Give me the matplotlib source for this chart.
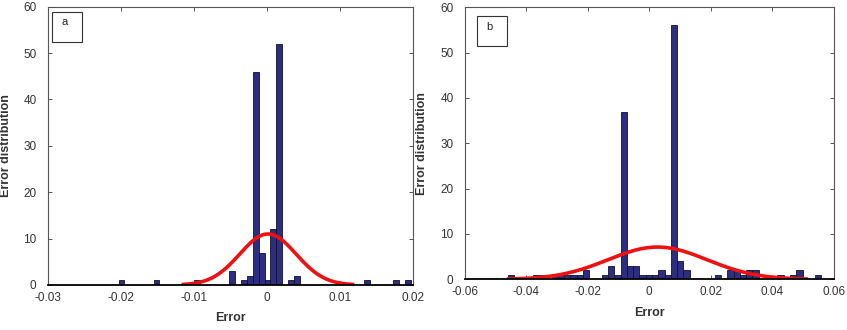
import numpy as np
import matplotlib.pyplot as plt
from matplotlib.patches import Rectangle

plt.rcParams['font.family'] = ['Liberation Sans', 'DejaVu Sans']
plt.rcParams['axes.unicode_minus'] = False

# panel a: 50 bins, first / last bin centre
centre_range_a = (-0.0199, 0.0193)
counts_a = [1, 0, 0, 0, 0, 0, 1, 0, 0, 0,
            0, 0, 0, 1, 0, 0, 0, 0, 0, 3,
            0, 1, 2, 46, 7, 1, 12, 52, 0, 1,
            2, 0, 0, 0, 0, 0, 0, 0, 0, 0,
            0, 0, 1, 0, 0, 0, 0, 1, 0, 1]
xticks_a = [-0.03, -0.02, -0.01, 0, 0.01, 0.02]
xlabels_a = ['-0.03', '-0.02', '-0.01', '0', '0.01', '0.02']

# panel b
centre_range_b = (-0.045, 0.0549)
counts_b = [1, 0, 0, 0, 1, 1, 0, 1, 1, 1,
            1, 1, 2, 0, 0, 1, 3, 1, 37, 3,
            3, 1, 1, 1, 2, 1, 56, 4, 2, 0,
            0, 0, 0, 1, 0, 2, 2, 1, 2, 2,
            0, 0, 0, 1, 0, 1, 2, 0, 0, 1]
xticks_b = [-0.06, -0.04, -0.02, 0, 0.02, 0.04, 0.06]
xlabels_b = ['-0.06', '-0.04', '-0.02', '0', '0.02', '0.04', '0.06']

yticks = [0, 10, 20, 30, 40, 50, 60]

bar_face = '#2e2e80'
bar_edge = '#101030'
txt_col = '#333333'


def draw_panel(ax, crange, counts, xticks, xlabels, tag, box, tagpos):
    counts = np.array(counts, dtype=float)
    centres = np.linspace(crange[0], crange[1], len(counts))
    w = centres[1] - centres[0]
    ax.bar(centres, counts, width=w, color=bar_face, edgecolor=bar_edge,
           linewidth=0.6, zorder=2)

    # normal fit from the histogram
    n = counts.sum()
    mu = (centres * counts).sum() / n
    sd = np.sqrt(((centres - mu) ** 2 * counts).sum() / n)
    xs = np.linspace(mu - 3 * sd, mu + 3 * sd, 200)
    ys = n * w / (sd * np.sqrt(2 * np.pi)) * np.exp(-0.5 * ((xs - mu) / sd) ** 2)
    ax.plot(xs, ys, color='#ee1111', linewidth=2.6, zorder=3)

    ax.set_xlim(xticks[0], xticks[-1])
    ax.set_ylim(0, 60)
    ax.set_xticks(xticks)
    ax.set_xticklabels(xlabels)
    ax.set_yticks(yticks)
    ax.tick_params(direction='in', length=3, width=0.7, top=True, right=True,
                   labelsize=8.5, colors='#555555', labelcolor=txt_col, pad=5)
    ax.tick_params(axis='y', pad=8)
    for s in ['top', 'right', 'left']:
        ax.spines[s].set_color('#555555')
        ax.spines[s].set_linewidth(0.8)
    ax.spines['bottom'].set_color('black')
    ax.spines['bottom'].set_linewidth(1.3)
    ax.spines['bottom'].set_zorder(4)

    ax.set_xlabel('Error', fontsize=9, fontweight='bold', color=txt_col, labelpad=6)
    ax.set_ylabel('Error distribution', fontsize=9, fontweight='bold', color=txt_col)

    ax.add_patch(Rectangle((box[0], box[1]), box[2], box[3], transform=ax.transAxes,
                           facecolor='white', edgecolor='#333333', linewidth=0.8,
                           zorder=5))
    ax.text(tagpos[0], tagpos[1], tag, transform=ax.transAxes, fontsize=8,
            ha='center', va='center', color='#222222', zorder=6)


fig = plt.figure(figsize=(8.47, 3.3), dpi=100)
ax_a = fig.add_axes([0.0563, 0.1364, 0.431, 0.8433])
ax_b = fig.add_axes([0.5486, 0.1536, 0.436, 0.8242])

draw_panel(ax_a, centre_range_a, counts_a, xticks_a, xlabels_a, 'a',
           (0.0126, 0.874, 0.082, 0.106), (0.0455, 0.946))
draw_panel(ax_b, centre_range_b, counts_b, xticks_b, xlabels_b, 'b',
           (0.0325, 0.858, 0.081, 0.110), (0.0658, 0.928))

ax_a.yaxis.set_label_coords(-0.098, 0.5)
ax_b.yaxis.set_label_coords(-0.099, 0.5)

fig.savefig('out.png', dpi=100)
